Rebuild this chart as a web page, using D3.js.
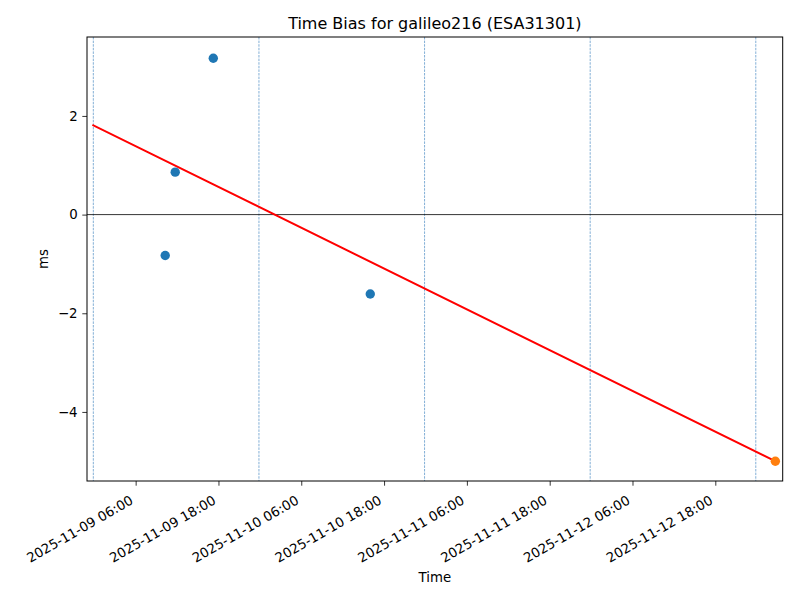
<!DOCTYPE html>
<html>
<head>
<meta charset="utf-8">
<script src="https://cdn.jsdelivr.net/npm/d3@7"></script>
<style>
  body { margin: 0; background: #fff; }
  svg { display: block; font-family: "DejaVu Sans", sans-serif; }
</style>
</head>
<body>
<svg id="chart" width="800" height="600"></svg>
<script>
// ---- data ----
const titleText = "Time Bias for galileo216 (ESA31301)";
const xLabel = "Time";
const yLabel = "ms";
const obsTimes = ["2025-11-09T10:17", "2025-11-09T11:44", "2025-11-09T17:15", "2025-11-10T16:00"];
const obsValues = [-0.83, 0.86, 3.17, -1.61];
const predTimes = ["2025-11-13T02:42"];
const predValues = [-5.00];
const fitTimes = ["2025-11-08T23:52", "2025-11-13T02:42"];
const fitValues = [1.81, -5.00];
const dayLines = ["2025-11-08T23:52", "2025-11-09T23:52", "2025-11-10T23:52", "2025-11-11T23:52", "2025-11-12T23:52"];
const xTicks = ["2025-11-09T06:00", "2025-11-09T18:00", "2025-11-10T06:00", "2025-11-10T18:00",
                "2025-11-11T06:00", "2025-11-11T18:00", "2025-11-12T06:00", "2025-11-12T18:00"];
const yTicks = [-4, -2, 0, 2];
const xDomain = ["2025-11-08T22:57", "2025-11-13T03:46"];
const yDomain = [-5.40, 3.60];

const parse = s => new Date(s + ":00Z");

const svg = d3.select("#chart");
const m = { left: 87, right: 17.3, top: 37, bottom: 119 };
const W = 800, H = 600;
const iw = W - m.left - m.right, ih = H - m.top - m.bottom;

const x = d3.scaleUtc().domain(xDomain.map(parse)).range([m.left, m.left + iw]);
const y = d3.scaleLinear().domain(yDomain).range([m.top + ih, m.top]);

const g = svg.append("g");

// clip
svg.append("defs").append("clipPath").attr("id", "clip")
  .append("rect").attr("x", m.left).attr("y", m.top).attr("width", iw).attr("height", ih);
const plot = g.append("g").attr("clip-path", "url(#clip)");

// vertical day lines
plot.selectAll("line.day").data(dayLines).join("line")
  .attr("class", "day")
  .attr("x1", d => x(parse(d))).attr("x2", d => x(parse(d)))
  .attr("y1", m.top).attr("y2", m.top + ih)
  .attr("stroke", "#4d8cc4").attr("stroke-width", 0.7)
  .attr("stroke-dasharray", "2.5,1.1");

// zero line
plot.append("line")
  .attr("x1", m.left).attr("x2", m.left + iw)
  .attr("y1", y(0)).attr("y2", y(0))
  .attr("stroke", "#000").attr("stroke-width", 0.8);

// fit line
const fit = fitTimes.map((t, i) => [parse(t), fitValues[i]]);
plot.append("path")
  .datum(fit)
  .attr("d", d3.line().x(d => x(d[0])).y(d => y(d[1])))
  .attr("fill", "none").attr("stroke", "#ff0000").attr("stroke-width", 2)
  .attr("stroke-linecap", "square");

// observations
plot.selectAll("circle.obs").data(obsTimes.map((t, i) => [parse(t), obsValues[i]])).join("circle")
  .attr("class", "obs")
  .attr("cx", d => x(d[0])).attr("cy", d => y(d[1])).attr("r", 4.7)
  .attr("fill", "#1f77b4");

// prediction
plot.selectAll("circle.pred").data(predTimes.map((t, i) => [parse(t), predValues[i]])).join("circle")
  .attr("class", "pred")
  .attr("cx", d => x(d[0])).attr("cy", d => y(d[1])).attr("r", 4.7)
  .attr("fill", "#ff7f0e");

// frame
g.append("rect")
  .attr("x", m.left).attr("y", m.top).attr("width", iw).attr("height", ih)
  .attr("fill", "none").attr("stroke", "#000").attr("stroke-width", 1);

// x axis
const fmt = d3.utcFormat("%Y-%m-%d %H:%M");
const xa = g.append("g").attr("transform", `translate(0,${m.top + ih})`)
  .call(d3.axisBottom(x).tickValues(xTicks.map(parse)).tickFormat(fmt).tickSize(4.7).tickPadding(0));
xa.select(".domain").remove();
xa.selectAll(".tick line").attr("stroke", "#000").attr("stroke-width", 0.8);
xa.selectAll(".tick text")
  .attr("font-size", 13.33).attr("fill", "#000")
  .attr("font-family", "DejaVu Sans")
  .attr("text-anchor", "end")
  .attr("dy", null).attr("y", null)
  .attr("transform", "translate(-2,22) rotate(-30)");

// y axis
const ya = g.append("g").attr("transform", `translate(${m.left},0)`)
  .call(d3.axisLeft(y).tickValues(yTicks).tickFormat(d => d3.format("")(d).replace("-", "\u2212")).tickSize(4.7).tickPadding(4.7));
ya.select(".domain").remove();
ya.selectAll(".tick line").attr("stroke", "#000").attr("stroke-width", 0.8);
ya.selectAll(".tick text").attr("font-size", 13.33).attr("fill", "#000").attr("font-family", "DejaVu Sans");

// labels
g.append("text").attr("x", m.left + iw / 2).attr("y", 582)
  .attr("text-anchor", "middle").attr("font-size", 13.33).text(xLabel);
g.append("text").attr("transform", `translate(48,${m.top + ih / 2}) rotate(-90)`)
  .attr("text-anchor", "middle").attr("font-size", 13.33).text(yLabel);
g.append("text").attr("x", m.left + iw / 2).attr("y", 29)
  .attr("text-anchor", "middle").attr("font-size", 16).text(titleText);
</script>
</body>
</html>
